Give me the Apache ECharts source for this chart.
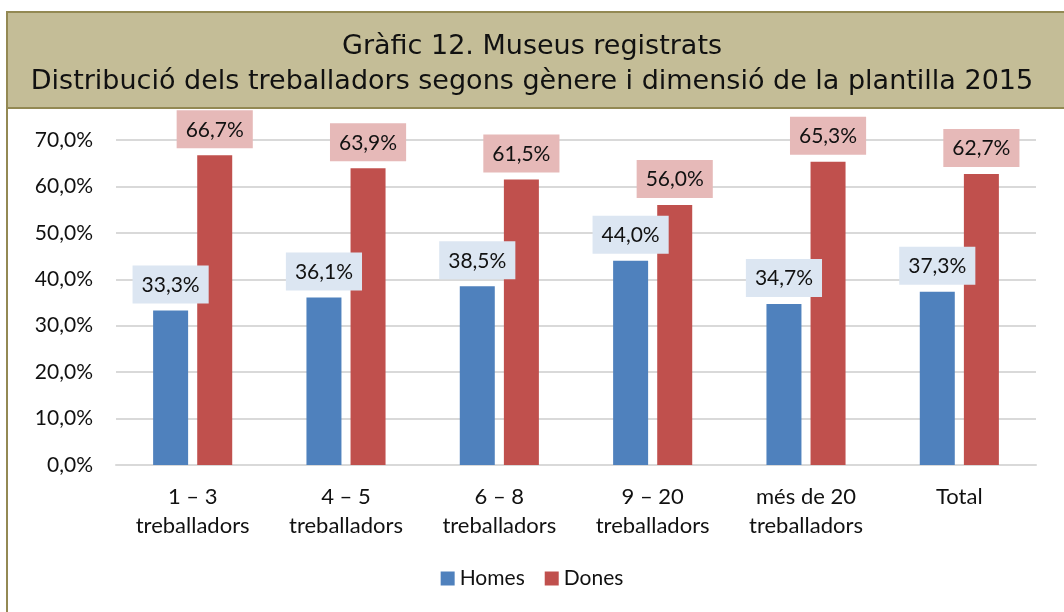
<!DOCTYPE html>
<html>
<head>
<meta charset="utf-8">
<script src="https://cdn.jsdelivr.net/npm/echarts@6/dist/echarts.min.js"></script>
<style>
  html, body { margin: 0; padding: 0; background: #fff; }
  #main { width: 1064px; height: 612px; }
</style>
</head>
<body>
<div id="main"></div>
<script>
// dades del gràfic
const categories = ['1 – 3\ntreballadors', '4 – 5\ntreballadors', '6 – 8\ntreballadors',
  '9 – 20\ntreballadors', 'més de 20\ntreballadors', 'Total'];
const homes = [33.3, 36.1, 38.5, 44.0, 34.7, 37.3];
const dones = [66.7, 63.9, 61.5, 56.0, 65.3, 62.7];
const yTicks = [0, 10, 20, 30, 40, 50, 60, 70];
const titleLines = ['Gràfic 12. Museus registrats',
  'Distribució dels treballadors segons gènere i dimensió de la plantilla 2015'];

const fmt = v => v.toFixed(1).replace('.', ',') + '%';
const labelFont = 'Lato, "Open Sans", sans-serif';
const titleFont = '27px "DejaVu Sans", Verdana, sans-serif';

const chart = echarts.init(document.getElementById('main'));

const option = {
  animation: false,
  backgroundColor: '#ffffff',
  graphic: [
    {
      type: 'rect',
      shape: { x: 7, y: 12, width: 1070, height: 96 },
      style: { fill: '#c4bd97', stroke: '#938953', lineWidth: 2 },
      z: -1
    },
    {
      type: 'line',
      shape: { x1: 7, y1: 12, x2: 7, y2: 620 },
      style: { stroke: '#938953', lineWidth: 2 }
    },
    {
      type: 'text', left: 'center', top: 33,
      style: { text: titleLines[0], font: titleFont, fill: '#111' }
    },
    {
      type: 'text', left: 'center', top: 68,
      style: { text: titleLines[1], font: titleFont, fill: '#111' }
    }
  ],
  legend: {
    bottom: 18,
    left: 'center',
    itemWidth: 14,
    itemHeight: 14,
    itemGap: 20,
    icon: 'rect',
    textStyle: { fontSize: 21, color: '#111', fontFamily: labelFont },
    data: ['Homes', 'Dones']
  },
  grid: { left: 116, right: 28, top: 140, bottom: 147 },
  xAxis: {
    type: 'category',
    data: categories,
    axisLine: { show: true, lineStyle: { color: '#d9d9d9', width: 2 } },
    axisTick: { show: false },
    axisLabel: {
      fontSize: 22, color: '#111', fontFamily: labelFont,
      lineHeight: 29, margin: 17, interval: 0
    }
  },
  yAxis: {
    type: 'value',
    min: yTicks[0],
    max: yTicks[yTicks.length - 1],
    interval: 10,
    axisLine: { show: false },
    axisTick: { show: false },
    splitLine: { lineStyle: { color: '#d9d9d9', width: 2 } },
    axisLabel: {
      fontSize: 21, color: '#111', fontFamily: labelFont, margin: 23,
      formatter: v => fmt(v)
    }
  },
  series: [
    {
      name: 'Homes',
      type: 'bar',
      data: homes,
      barWidth: 35,
      barGap: '26%',
      itemStyle: { color: '#4f81bd' },
      label: {
        show: true, position: 'top', distance: 7,
        formatter: p => fmt(p.value),
        fontSize: 21, color: '#111', fontFamily: labelFont,
        backgroundColor: '#dce6f2', padding: [9, 9, 8, 9]
      }
    },
    {
      name: 'Dones',
      type: 'bar',
      data: dones,
      barWidth: 35,
      itemStyle: { color: '#c0504d' },
      label: {
        show: true, position: 'top', distance: 7,
        formatter: p => fmt(p.value),
        fontSize: 21, color: '#111', fontFamily: labelFont,
        backgroundColor: '#e6b9b8', padding: [9, 9, 8, 9]
      }
    }
  ]
};

option && chart.setOption(option);
</script>
</body>
</html>
